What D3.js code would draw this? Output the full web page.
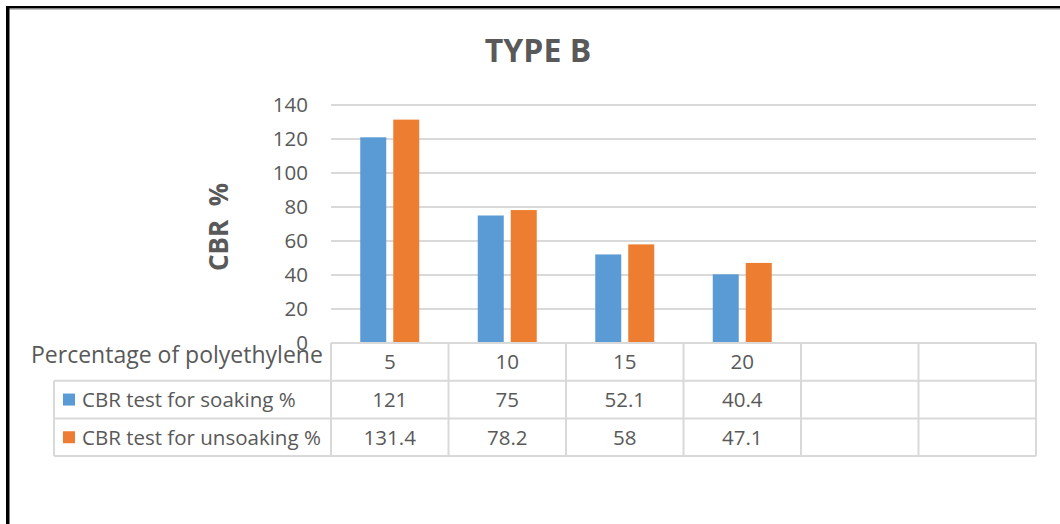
<!DOCTYPE html>
<html>
<head>
<meta charset="utf-8">
<script src="https://cdn.jsdelivr.net/npm/d3@7"></script>
<style>
  html, body { margin: 0; padding: 0; background: #fff; }
  svg { display: block; font-family: "Open Sans", sans-serif; }
</style>
</head>
<body>
<svg id="chart" width="1060" height="524"></svg>
<script>
// Data
const categories = ["5", "10", "15", "20", "", ""];
const seriesNames = ["CBR test for soaking %", "CBR test for unsoaking %"];
const soaking = [121, 75, 52.1, 40.4];
const unsoaking = [131.4, 78.2, 58, 47.1];
const yTicks = [0, 20, 40, 60, 80, 100, 120, 140];
const seriesColors = ["#5B9BD5", "#ED7D31"];

const seriesValues = [soaking, unsoaking];

const svg = d3.select("#chart");
const textColor = "#595959";
const gridColor = "#d9d9d9";

// Plot geometry
const plotLeft = 331, plotRight = 1036;
const plotTop = 105, plotBottom = 343;
const rowH = 37.7;
const legendLeft = 54;

const x = d3.scaleBand()
  .domain(d3.range(categories.length))
  .range([plotLeft, plotRight])
  .paddingInner(0).paddingOuter(0);

const y = d3.scaleLinear().domain([0, 140]).range([plotBottom, plotTop]);

// Bars occupy the middle of each band with a small gap between series
const groupW = 59;
const xSub = d3.scaleBand()
  .domain(d3.range(seriesNames.length))
  .range([0, groupW])
  .paddingInner(7 / 33).paddingOuter(0);

// Outer frame (top and left edges)
svg.append("rect").attr("x", 6).attr("y", 6).attr("width", 1054).attr("height", 2.5).attr("fill", "#000");
svg.append("rect").attr("x", 6).attr("y", 8.5).attr("width", 1054).attr("height", 1).attr("fill", "#888");
svg.append("rect").attr("x", 6).attr("y", 6).attr("width", 3.5).attr("height", 518).attr("fill", "#000");

// Title
svg.append("text")
  .attr("x", 538).attr("y", 62)
  .attr("text-anchor", "middle")
  .attr("font-size", 32).attr("font-weight", 700)
  .attr("fill", textColor)
  .text("TYPE B");

// Y axis (labels + gridlines)
const yAxis = d3.axisLeft(y).tickValues(yTicks).tickSize(0).tickPadding(0);
const gAxis = svg.append("g")
  .attr("transform", `translate(${plotLeft - 23},0)`)
  .call(yAxis);
gAxis.select(".domain").remove();
gAxis.selectAll("text")
  .attr("font-family", "Open Sans, sans-serif")
  .attr("font-size", 20.5)
  .attr("fill", textColor);

svg.append("g")
  .selectAll("line")
  .data(yTicks.filter(t => t > 0))
  .join("line")
  .attr("x1", plotLeft).attr("x2", plotRight)
  .attr("y1", d => y(d)).attr("y2", d => y(d))
  .attr("stroke", gridColor).attr("stroke-width", 2);

// Y axis title
svg.append("text")
  .attr("transform", "translate(228,227) rotate(-90)")
  .attr("text-anchor", "middle")
  .attr("font-size", 26).attr("font-weight", 700)
  .attr("fill", textColor)
  .style("white-space", "pre")
  .text("CBR  %");

// Bars
seriesValues.forEach((vals, si) => {
  svg.append("g")
    .selectAll("rect")
    .data(vals)
    .join("rect")
    .attr("x", (d, i) => x(i) + (x.bandwidth() - groupW) / 2 + xSub(si))
    .attr("width", xSub.bandwidth())
    .attr("y", d => y(d))
    .attr("height", d => y(0) - y(d))
    .attr("fill", seriesColors[si]);
});

// Data table
const table = svg.append("g").attr("stroke", gridColor).attr("stroke-width", 2);
const rowY = [plotBottom, plotBottom + rowH, plotBottom + 2 * rowH, plotBottom + 3 * rowH];
// horizontal lines
table.append("line").attr("x1", plotLeft).attr("x2", plotRight).attr("y1", rowY[0]).attr("y2", rowY[0]);
[1, 2, 3].forEach(r => {
  table.append("line").attr("x1", legendLeft).attr("x2", plotRight).attr("y1", rowY[r]).attr("y2", rowY[r]);
});
// vertical lines
table.append("line").attr("x1", legendLeft).attr("x2", legendLeft).attr("y1", rowY[1]).attr("y2", rowY[3]);
d3.range(categories.length + 1).forEach(k => {
  const xx = plotLeft + k * x.step();
  table.append("line").attr("x1", xx).attr("x2", xx).attr("y1", rowY[0]).attr("y2", rowY[3]);
});

const cellFont = 20.5;
const mid = r => (rowY[r] + rowY[r + 1]) / 2 + cellFont * 0.36;

// Category row
svg.append("g").selectAll("text")
  .data(categories)
  .join("text")
  .attr("x", (d, i) => x(i) + x.bandwidth() / 2)
  .attr("y", mid(0))
  .attr("text-anchor", "middle")
  .attr("font-size", cellFont)
  .attr("fill", textColor)
  .text(d => d);

// Category axis title
svg.append("text")
  .attr("x", 31).attr("y", 363)
  .attr("font-size", 23)
  .attr("fill", textColor)
  .text("Percentage of polyethylene");

// Series rows with legend keys
seriesValues.forEach((vals, si) => {
  const r = si + 1;
  const cy = (rowY[r] + rowY[r + 1]) / 2;
  svg.append("rect")
    .attr("x", 63).attr("y", cy - 6)
    .attr("width", 12).attr("height", 12)
    .attr("fill", seriesColors[si]);
  svg.append("text")
    .attr("x", 82).attr("y", mid(r))
    .attr("font-size", cellFont)
    .attr("fill", textColor)
    .text(seriesNames[si]);
  svg.append("g").selectAll("text")
    .data(vals)
    .join("text")
    .attr("x", (d, i) => x(i) + x.bandwidth() / 2)
    .attr("y", mid(r))
    .attr("text-anchor", "middle")
    .attr("font-size", cellFont)
    .attr("fill", textColor)
    .text(d => d);
});
</script>
</body>
</html>
